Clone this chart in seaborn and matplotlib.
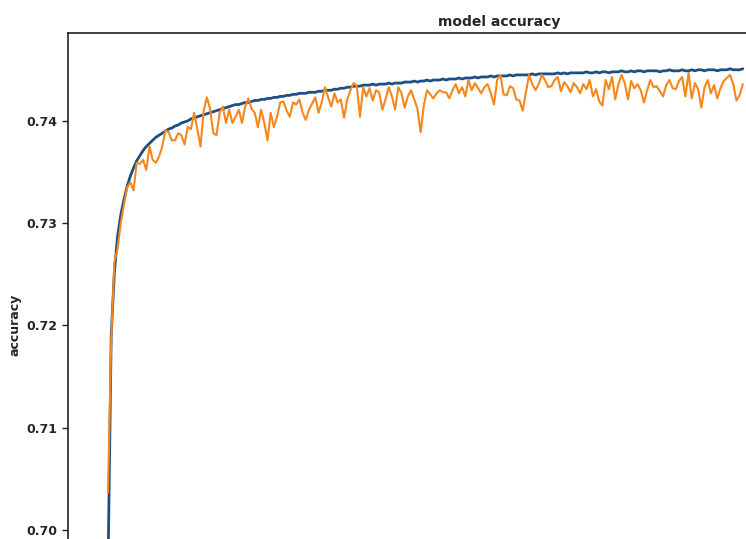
import numpy as np
import pandas as pd
import matplotlib
matplotlib.use("Agg")
import matplotlib.pyplot as plt
import seaborn as sns

# Set style
sns.set_style("ticks")
plt.rcParams['font.family'] = ['DejaVu Sans']

# training accuracy per epoch
train_acc = [
    0.6960, 0.7190, 0.7252, 0.7287, 0.7308, 0.7323, 0.7336, 0.7346, 0.7354, 0.7361,
    0.7366, 0.7371, 0.7375, 0.7378, 0.7381, 0.7384, 0.7386, 0.7388, 0.7390, 0.7392,
    0.7393, 0.7395, 0.7396, 0.7398, 0.7399, 0.7400, 0.7402, 0.7403, 0.7404, 0.7405,
    0.7406, 0.7407, 0.7408, 0.7409, 0.7410, 0.7411, 0.7412, 0.7413, 0.7414, 0.7415,
    0.7416, 0.7416, 0.7417, 0.7418, 0.7418, 0.7419, 0.7420, 0.7420, 0.7421, 0.7421,
    0.7422, 0.7422, 0.7423, 0.7423, 0.7424, 0.7424, 0.7425, 0.7425, 0.7426, 0.7426,
    0.7427, 0.7427, 0.7427, 0.7428, 0.7428, 0.7428, 0.7429, 0.7429, 0.7430, 0.7430,
    0.7430, 0.7431, 0.7431, 0.7432, 0.7432, 0.7433, 0.7433, 0.7434, 0.7434, 0.7434,
    0.7435, 0.7435, 0.7435, 0.7436, 0.7435, 0.7436, 0.7436, 0.7436, 0.7437, 0.7436,
    0.7437, 0.7437, 0.7437, 0.7438, 0.7438, 0.7438, 0.7439, 0.7438, 0.7439, 0.7439,
    0.7440, 0.7439, 0.7440, 0.7440, 0.7440, 0.7441, 0.7440, 0.7441, 0.7441, 0.7441,
    0.7442, 0.7441, 0.7442, 0.7442, 0.7442, 0.7443, 0.7442, 0.7443, 0.7443, 0.7443,
    0.7444, 0.7443, 0.7444, 0.7444, 0.7444, 0.7444, 0.7445, 0.7444, 0.7445, 0.7445,
    0.7445, 0.7445, 0.7445, 0.7446, 0.7445, 0.7446, 0.7446, 0.7446, 0.7446, 0.7446,
    0.7446, 0.7447, 0.7446, 0.7447, 0.7446, 0.7447, 0.7447, 0.7447, 0.7447, 0.7447,
    0.7448, 0.7447, 0.7447, 0.7448, 0.7447, 0.7448, 0.7448, 0.7447, 0.7448, 0.7448,
    0.7448, 0.7449, 0.7448, 0.7448, 0.7449, 0.7448, 0.7449, 0.7449, 0.7448, 0.7449,
    0.7449, 0.7449, 0.7449, 0.7448, 0.7449, 0.7449, 0.7450, 0.7449, 0.7449, 0.7449,
    0.7450, 0.7449, 0.7449, 0.7450, 0.7449, 0.7450, 0.7450, 0.7449, 0.7450, 0.7450,
    0.7450, 0.7449, 0.7450, 0.7450, 0.7450, 0.7451, 0.7450, 0.7450, 0.7450, 0.7451,
]

# validation accuracy per epoch
val_acc = [
    0.7036, 0.7185, 0.7262, 0.7275, 0.7300, 0.7318, 0.7335, 0.7340, 0.7332, 0.7359,
    0.7358, 0.7362, 0.7352, 0.7375, 0.7362, 0.7359, 0.7365, 0.7375, 0.7391, 0.7389,
    0.7381, 0.7381, 0.7388, 0.7386, 0.7377, 0.7394, 0.7392, 0.7408, 0.7392, 0.7375,
    0.7410, 0.7423, 0.7412, 0.7388, 0.7386, 0.7408, 0.7414, 0.7398, 0.7411, 0.7398,
    0.7404, 0.7411, 0.7398, 0.7414, 0.7422, 0.7412, 0.7408, 0.7394, 0.7411, 0.7398,
    0.7381, 0.7408, 0.7394, 0.7404, 0.7418, 0.7419, 0.7410, 0.7404, 0.7418, 0.7416,
    0.7421, 0.7408, 0.7401, 0.7411, 0.7417, 0.7423, 0.7408, 0.7418, 0.7433, 0.7423,
    0.7414, 0.7427, 0.7418, 0.7421, 0.7403, 0.7421, 0.7430, 0.7437, 0.7434, 0.7404,
    0.7433, 0.7424, 0.7432, 0.7420, 0.7430, 0.7428, 0.7411, 0.7421, 0.7433, 0.7424,
    0.7411, 0.7433, 0.7427, 0.7413, 0.7424, 0.7430, 0.7421, 0.7412, 0.7389, 0.7415,
    0.7430, 0.7426, 0.7422, 0.7427, 0.7430, 0.7428, 0.7428, 0.7422, 0.7430, 0.7436,
    0.7427, 0.7433, 0.7424, 0.7440, 0.7430, 0.7437, 0.7432, 0.7427, 0.7433, 0.7436,
    0.7427, 0.7416, 0.7440, 0.7445, 0.7426, 0.7425, 0.7434, 0.7432, 0.7421, 0.7420,
    0.7410, 0.7428, 0.7445, 0.7436, 0.7430, 0.7436, 0.7445, 0.7440, 0.7433, 0.7434,
    0.7440, 0.7443, 0.7429, 0.7438, 0.7434, 0.7428, 0.7437, 0.7433, 0.7427, 0.7436,
    0.7431, 0.7440, 0.7424, 0.7431, 0.7419, 0.7415, 0.7440, 0.7431, 0.7443, 0.7421,
    0.7436, 0.7445, 0.7437, 0.7421, 0.7439, 0.7432, 0.7436, 0.7430, 0.7418, 0.7430,
    0.7440, 0.7433, 0.7434, 0.7429, 0.7424, 0.7435, 0.7440, 0.7432, 0.7431, 0.7439,
    0.7443, 0.7424, 0.7447, 0.7422, 0.7437, 0.7431, 0.7413, 0.7433, 0.7440, 0.7427,
    0.7435, 0.7422, 0.7432, 0.7439, 0.7442, 0.7445, 0.7436, 0.7420, 0.7425, 0.7436,
]

y_ticks = [0.70, 0.71, 0.72, 0.73, 0.74]

epochs = np.arange(len(train_acc))
df = pd.DataFrame({
    'epoch': np.concatenate([epochs, epochs]),
    'accuracy': train_acc + val_acc,
    'split': ['train'] * len(train_acc) + ['val'] * len(val_acc),
})

fig = plt.figure(figsize=(7.46, 5.39), dpi=100)
# the reference is a cropped photo: axes run off the right and bottom edges
ax = fig.add_axes([68 / 746, 0.0, 678 / 746, 506 / 539])

sns.lineplot(data=df, x='epoch', y='accuracy', hue='split',
             palette={'train': '#1d4f85', 'val': '#f7861c'},
             ax=ax, legend=False, estimator=None)
for line, lw in zip(ax.lines, [2.0, 1.5]):
    line.set_linewidth(lw)

ax.set_xlim(-12.54, 200)
ax.set_ylim(0.6991, 0.7486)
ax.set_yticks(y_ticks)
ax.set_yticklabels([f'{t:.2f}' for t in y_ticks], fontsize=9, fontweight='bold')
ax.set_xticks([])
ax.set_xlabel('')
ax.set_ylabel('accuracy', fontsize=9, fontweight='bold')
ax.yaxis.set_label_coords(-0.068, 0.423)
ax.set_title('model accuracy', fontsize=10, fontweight='bold',
             x=(499 - 68) / 678, pad=5)

for side in ['right', 'bottom']:
    ax.spines[side].set_visible(False)
for side in ['left', 'top']:
    ax.spines[side].set_color('#222222')
    ax.spines[side].set_linewidth(1.2)
ax.tick_params(axis='y', length=4, width=1.0, color='#222222')

fig.savefig('out.png', dpi=100)
